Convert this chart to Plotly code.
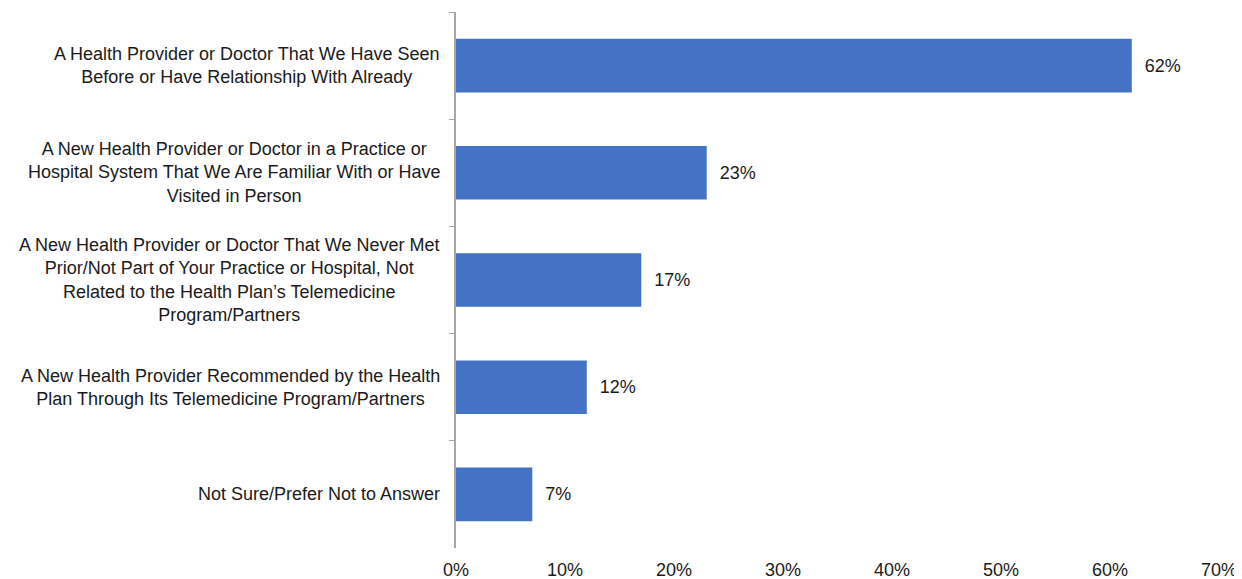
import plotly.graph_objects as go

categories = [
    "A Health Provider or Doctor That We Have Seen<br>Before or Have Relationship With Already",
    "A New Health Provider or Doctor in a Practice or<br>Hospital System That We Are Familiar With or Have<br>Visited in Person",
    "A New Health Provider or Doctor That We Never Met<br>Prior/Not Part of Your Practice or Hospital, Not<br>Related to the Health Plan\u2019s Telemedicine<br>Program/Partners",
    "A New Health Provider Recommended by the Health<br>Plan Through Its Telemedicine Program/Partners",
    "Not Sure/Prefer Not to Answer",
]
values = [62, 23, 17, 12, 7]
x_ticks = [0, 10, 20, 30, 40, 50, 60, 70]
x_tick_labels = [f"{v}%" for v in x_ticks]

FONT = "Liberation Sans, Arial, sans-serif"
FS = 18
TXT = "#1a1a1a"

fig = go.Figure(
    go.Bar(
        x=values,
        y=categories,
        orientation="h",
        marker=dict(color="#4472C4", line=dict(width=0)),
        texttemplate="  %{x}%",
        textposition="outside",
        textfont=dict(family=FONT, size=FS, color=TXT),
        cliponaxis=False,
    )
)

for c in categories:
    fig.add_annotation(
        x=0, xref="paper", y=c, yref="y",
        text=c, showarrow=False, xanchor="right", xshift=-14,
        align="center", font=dict(family=FONT, size=FS, color=TXT),
    )

# page body has an 8px margin, so the figure is offset by 8px
fig.update_layout(
    width=1234, height=571,
    margin=dict(l=448, r=23, t=4, b=31, autoexpand=False),
    paper_bgcolor="white", plot_bgcolor="white",
    showlegend=False,
    bargap=0.5,
    font=dict(family=FONT, size=FS, color=TXT),
)
fig.update_xaxes(
    range=[0, 70], tickvals=x_ticks, ticktext=x_tick_labels,
    showgrid=False, zeroline=False, showline=False, ticks="",
    tickfont=dict(family=FONT, size=FS, color=TXT),
    ticklabelstandoff=9,
)
fig.update_yaxes(
    autorange="reversed", showticklabels=False,
    showline=True, linecolor="#A6A6A6", linewidth=1.5,
    ticks="outside", tickson="boundaries", ticklen=5, tickcolor="#A6A6A6", tickwidth=1,
    showgrid=False, zeroline=False,
)

fig.write_html("out.html")
